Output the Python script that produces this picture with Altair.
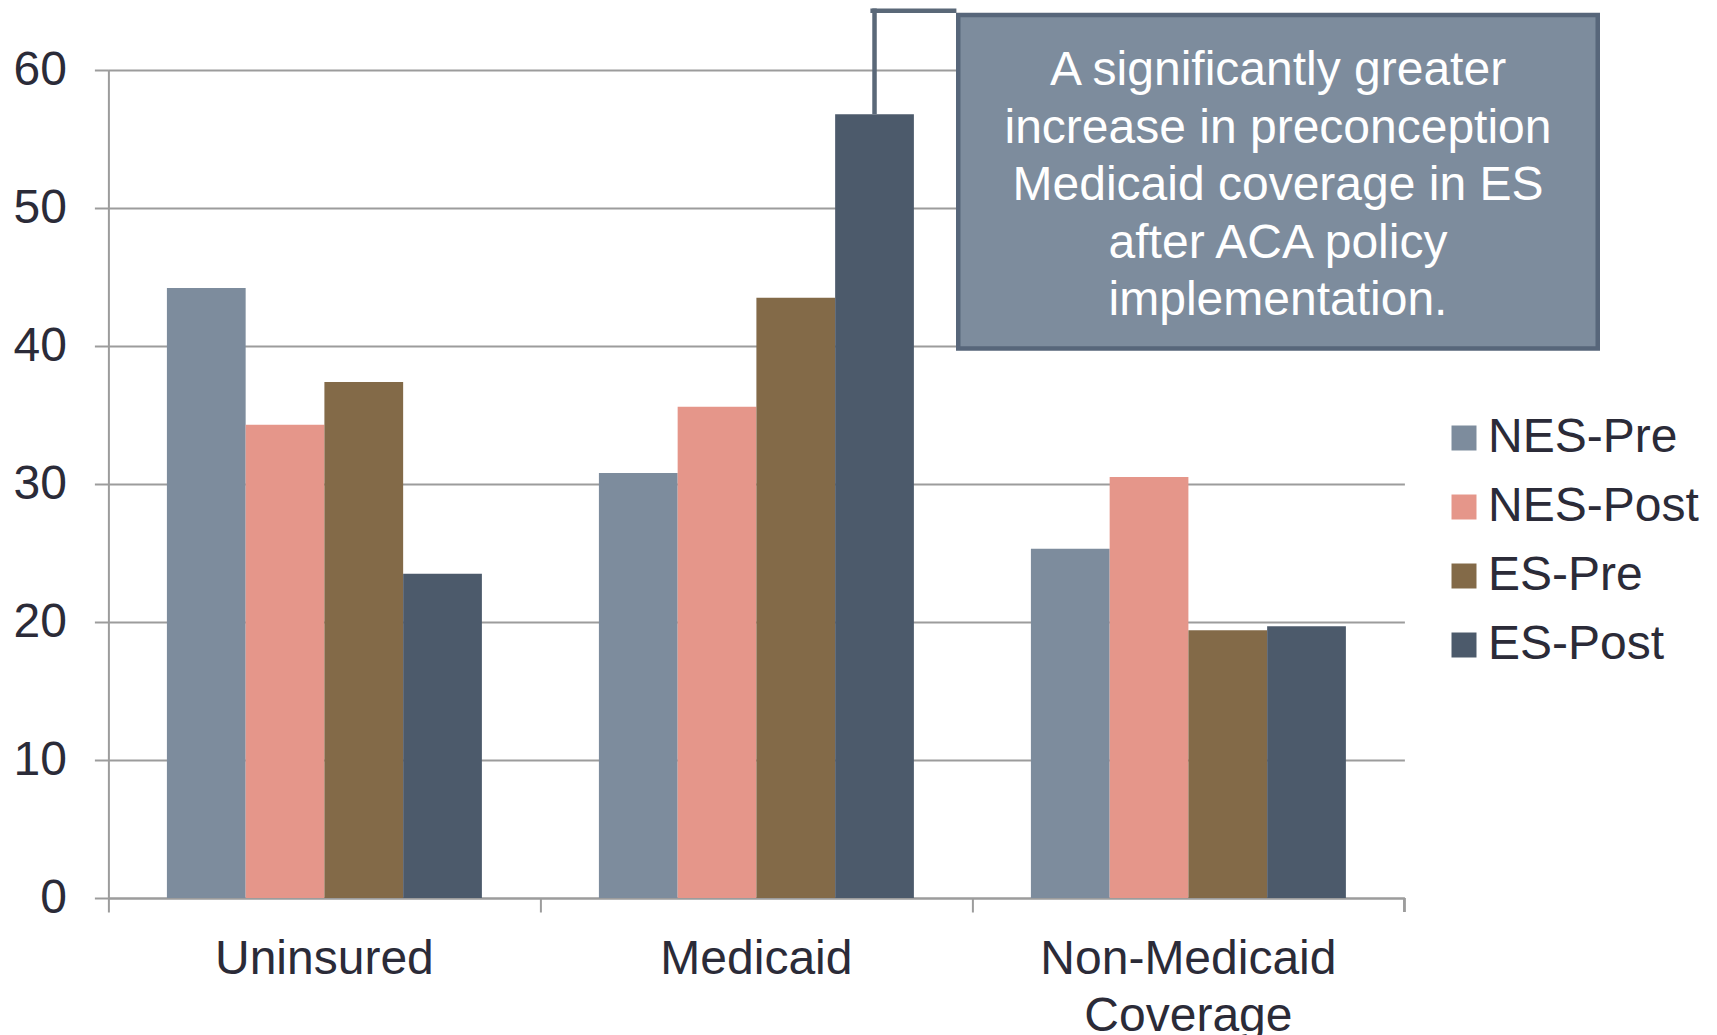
import altair as alt
import pandas as pd

# Survey categories and the four comparison groups
categories = ["Uninsured", "Medicaid", "Non-Medicaid Coverage"]
groups = ["NES-Pre", "NES-Post", "ES-Pre", "ES-Post"]

# Percentages per group, in category order
nes_pre = [44.2, 30.8, 25.3]
nes_post = [34.3, 35.6, 30.5]
es_pre = [37.4, 43.5, 19.4]
es_post = [23.5, 56.8, 19.7]

group_colors = ["#7D8C9D", "#E5968A", "#836A48", "#4C5A6B"]
y_ticks = [0, 10, 20, 30, 40, 50, 60]

callout_lines = [
    "A significantly greater",
    "increase in preconception",
    "Medicaid coverage in ES",
    "after ACA policy",
    "implementation.",
]

rows = []
for g, vals in zip(groups, [nes_pre, nes_post, es_pre, es_post]):
    for c, v in zip(categories, vals):
        rows.append({"category": c, "group": g, "value": v})
df = pd.DataFrame(rows)

FONT = "Liberation Sans"
TEXT = "#2B2B38"
GRID = "#9C9C9C"
W, H = 1296, 828
LEFT, TOP = 108.4, 70
FS = 48

x_scale = alt.Scale(domain=categories, paddingInner=0, paddingOuter=0)
y_scale = alt.Scale(domain=[0, 60], nice=False)
off_scale = alt.Scale(domain=groups, paddingInner=0, paddingOuter=0.743)

x_axis = alt.Axis(
    title=None,
    bandPosition=0,
    tickSize=14,
    tickWidth=2,
    tickColor=GRID,
    domainColor=GRID,
    domainWidth=2,
    grid=False,
    labelAngle=0,
    labelFont=FONT,
    labelFontSize=FS,
    labelColor=TEXT,
    labelBaseline="alphabetic",
    labelPadding=61,
    labelLineHeight=57,
    labelLimit=600,
    labelOverlap=False,
    labelBound=False,
    labelFlush=False,
    labelExpr="datum.label == 'Non-Medicaid Coverage' ? ['Non-Medicaid', 'Coverage'] : datum.label",
)

y_axis = alt.Axis(
    title=None,
    values=y_ticks,
    tickSize=14,
    tickWidth=2,
    tickColor=GRID,
    domainColor=GRID,
    domainWidth=2,
    gridColor=GRID,
    gridWidth=2,
    labelFont=FONT,
    labelFontSize=FS,
    labelColor=TEXT,
    labelPadding=28,
)

legend = alt.Legend(
    title=None,
    orient="none",
    legendX=1331.6,
    legendY=344,
    symbolType="square",
    symbolSize=625,
    symbolStrokeWidth=0,
    symbolOpacity=1,
    labelFont=FONT,
    labelFontSize=FS,
    labelColor=TEXT,
    labelOffset=0,
    labelLimit=600,
    rowPadding=21,
    padding=0,
)

bars = alt.Chart(df).mark_bar().encode(
    x=alt.X("category:N", scale=x_scale, sort=categories, axis=x_axis),
    xOffset=alt.XOffset("group:N", sort=groups, scale=off_scale),
    y=alt.Y("value:Q", scale=y_scale, axis=y_axis),
    color=alt.Color(
        "group:N", sort=groups,
        scale=alt.Scale(domain=groups, range=group_colors),
        legend=legend,
    ),
)

# closing tick at the right end of the category axis
end_tick = alt.Chart(df).transform_filter(
    alt.datum.category == categories[-1]
).mark_rule(color=GRID, strokeWidth=2).encode(
    x=alt.X("category:N", bandPosition=1),
    y=alt.value(H),
    y2=alt.value(H + 14),
)

LEADER = "#5A6878"

# leader from the top of the ES-Post Medicaid bar up to the note
leader_up = alt.Chart(df).transform_filter(
    (alt.datum.category == "Medicaid") & (alt.datum.group == "ES-Post")
).mark_bar(width=4.5, color=LEADER).encode(
    x=alt.X("category:N"),
    xOffset=alt.XOffset("group:N"),
    y=alt.Y("value:Q"),
    y2=alt.datum(64.46),
)

leader_across = alt.Chart(df).transform_filter(
    (alt.datum.category == "Medicaid") & (alt.datum.group == "ES-Post")
).mark_rule(color=LEADER, strokeWidth=4.5).encode(
    y=alt.datum(64.3),
    x=alt.value(762),
    x2=alt.value(848),
)

note_df = pd.DataFrame({"note": [0]})

note_box = alt.Chart(note_df).mark_rect(
    fill="#7D8C9D", stroke="#57667A", strokeWidth=4.5
).encode(
    x=alt.value(956 - LEFT + 2.25),
    x2=alt.value(1600 - LEFT - 2.25),
    y=alt.value(12.7 - TOP + 2.25),
    y2=alt.value(350.7 - TOP - 2.25),
)

note_text = alt.Chart(note_df).mark_text(
    text=callout_lines,
    font=FONT,
    fontSize=FS,
    color="white",
    align="center",
    baseline="alphabetic",
    lineHeight=57.5,
).encode(
    x=alt.value((956 + 1600) / 2 - LEFT),
    y=alt.value(85 - TOP),
)

chart = alt.layer(
    bars, end_tick, leader_up, leader_across, note_box, note_text
).properties(
    width=W,
    height=H,
    autosize=alt.AutoSizeParams(type="none"),
    padding={"left": LEFT, "top": TOP, "right": 1717 - LEFT - W, "bottom": 1035 - TOP - H},
    background="white",
).configure_view(stroke=None)

chart.save("out.html", embed_options={"renderer": "svg", "actions": False})
